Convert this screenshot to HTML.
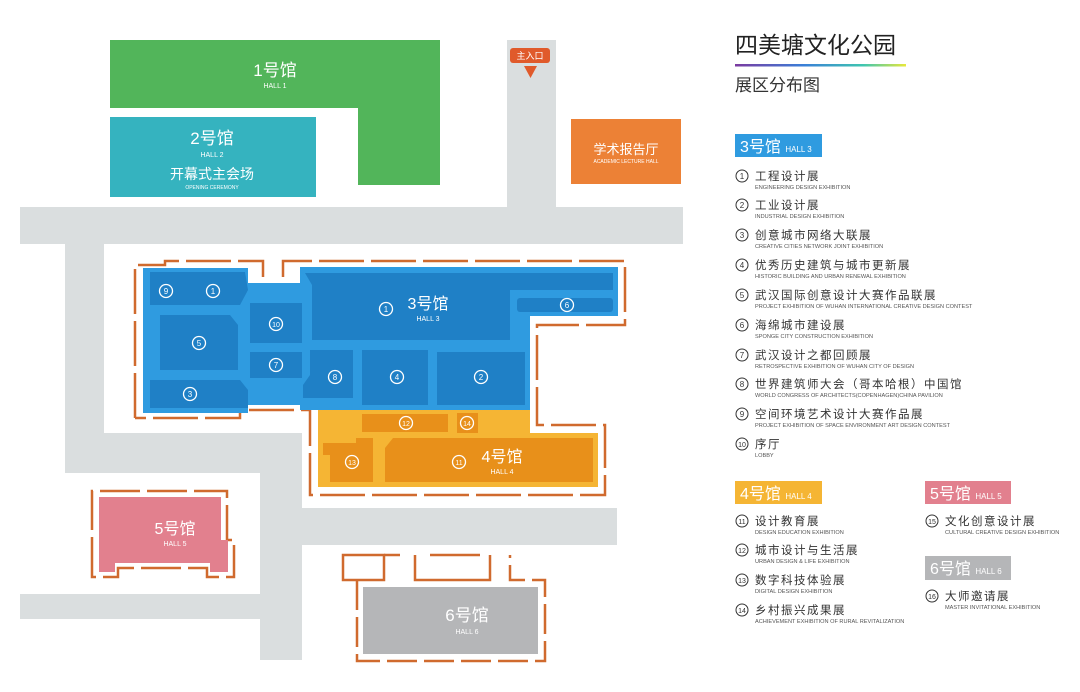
<!DOCTYPE html>
<html><head><meta charset="utf-8"><style>
html,body{margin:0;padding:0;background:#fff;}
svg{display:block;font-family:"Liberation Sans","Noto Sans CJK SC",sans-serif;}
</style></head><body>
<svg width="1080" height="692" viewBox="0 0 1080 692" xmlns="http://www.w3.org/2000/svg">
<rect width="1080" height="692" fill="#fff"/>
<!-- roads -->
<g fill="#dadedf">
<rect x="20" y="207" width="663" height="37"/>
<rect x="507" y="40" width="49" height="168"/>
<rect x="65" y="243" width="39" height="230"/>
<rect x="65" y="433" width="237" height="40"/>
<rect x="260" y="433" width="42" height="227"/>
<rect x="302" y="508" width="315" height="37"/>
<rect x="20" y="594" width="240" height="25"/>
</g>
<!-- hall 1 -->
<path d="M110 40H440V185H358V108H110Z" fill="#52b55a"/>
<text x="275" y="76" fill="#fff" font-size="17" text-anchor="middle">1号馆</text>
<text x="275" y="88" fill="#fff" font-size="7" text-anchor="middle">HALL 1</text>
<!-- hall 2 -->
<rect x="110" y="117" width="206" height="80" fill="#35b3bf"/>
<text x="212" y="144" fill="#fff" font-size="17" text-anchor="middle">2号馆</text>
<text x="212" y="157" fill="#fff" font-size="7" text-anchor="middle">HALL 2</text>
<text x="212" y="179" fill="#fff" font-size="14" text-anchor="middle">开幕式主会场</text>
<text x="212" y="189" fill="#fff" font-size="5" text-anchor="middle">OPENING CEREMONY</text>
<!-- entrance -->
<rect x="510" y="48" width="40" height="15" rx="3" fill="#e05a2b"/>
<text x="530" y="59" fill="#fff" font-size="9" text-anchor="middle">主入口</text>
<path d="M524 66H537L530.5 78Z" fill="#e05a2b"/>
<!-- lecture hall -->
<rect x="571" y="119" width="110" height="65" fill="#ec8136"/>
<text x="626" y="154" fill="#fff" font-size="13" text-anchor="middle">学术报告厅</text>
<text x="626" y="163" fill="#fff" font-size="5" text-anchor="middle">ACADEMIC LECTURE HALL</text>

<!-- hall 3/4 outline -->
<path d="M135 418V265H165V261H263V277M283 277V261H625V325H537V425H605V495H310V410H240V418H135" fill="none" stroke="#d06a2e" stroke-width="2.5" stroke-dasharray="45 7"/>
<!-- hall 3 -->
<path d="M143 268H248V283H300V267H618V316H530V410H300V405H248V413H143Z" fill="#2f9be0"/>
<g fill="#1f80c6">
<path d="M150 272H245L248 290L240 305H150Z"/>
<path d="M160 315H230L238 325V370H160Z"/>
<path d="M150 380H240L248 390V408H150Z"/>
<rect x="250" y="303" width="52" height="40"/>
<rect x="250" y="352" width="52" height="26"/>
<path d="M310 350H353V398H303V385L310 375Z"/>
<rect x="362" y="350" width="66" height="55"/>
<rect x="437" y="352" width="88" height="53"/>
<path d="M305 273H510V340H312V285Z"/>
<rect x="510" y="273" width="103" height="17"/>
<rect x="517" y="298" width="96" height="14" rx="3"/>
</g>
<!-- hall 4 -->
<path d="M318 410H530V433H598V487H318Z" fill="#f5b534"/>
<g fill="#e8901a">
<rect x="362" y="414" width="86" height="18"/>
<rect x="457" y="413" width="21" height="20"/>
<path d="M323 443H356V438H373V482H330V455H323Z"/>
<path d="M393 438H593V482H385V448Z"/>
</g>
<g fill="none" stroke="#fff" stroke-width="1.3">
<circle cx="166" cy="291" r="6.5"/><circle cx="213" cy="291" r="6.5"/>
<circle cx="199" cy="343" r="6.5"/><circle cx="190" cy="394" r="6.5"/>
<circle cx="276" cy="324" r="6.5"/><circle cx="276" cy="365" r="6.5"/>
<circle cx="335" cy="377" r="6.5"/><circle cx="397" cy="377" r="6.5"/>
<circle cx="481" cy="377" r="6.5"/><circle cx="386" cy="309" r="6.5"/>
<circle cx="567" cy="305" r="6.5"/>
<circle cx="406" cy="423" r="6.5"/><circle cx="467" cy="423" r="6.5"/>
<circle cx="352" cy="462" r="6.5"/><circle cx="459" cy="462" r="6.5"/>
<circle cx="130" cy="532" r="7"/><circle cx="422" cy="622" r="8"/>
</g>
<g fill="#fff" font-size="8" text-anchor="middle">
<text x="166" y="294">9</text><text x="213" y="294">1</text>
<text x="199" y="346">5</text><text x="190" y="397">3</text>
<text x="276" y="327" font-size="7">10</text><text x="276" y="368">7</text>
<text x="335" y="380">8</text><text x="397" y="380">4</text>
<text x="481" y="380">2</text><text x="386" y="312">1</text>
<text x="567" y="308">6</text>
<text x="406" y="426" font-size="7">12</text><text x="467" y="426" font-size="7">14</text>
<text x="352" y="465" font-size="7">13</text><text x="459" y="465" font-size="7">11</text>
<text x="130" y="535" font-size="7">15</text><text x="422" y="625" font-size="8">16</text>
</g>
<text x="428" y="309" fill="#fff" font-size="16" text-anchor="middle">3号馆</text>
<text x="428" y="321" fill="#fff" font-size="7" text-anchor="middle">HALL 3</text>
<text x="502" y="462" fill="#fff" font-size="16" text-anchor="middle">4号馆</text>
<text x="502" y="474" fill="#fff" font-size="7" text-anchor="middle">HALL 4</text>

<!-- hall 5 -->
<path d="M92 577V491H227V540H234V577H207V568H118V577Z" fill="none" stroke="#d06a2e" stroke-width="2.5" stroke-dasharray="40 7"/>
<path d="M99 497H221V540H228V572H210V563H115V572H99Z" fill="#e2808e"/>
<text x="175" y="534" fill="#fff" font-size="16" text-anchor="middle">5号馆</text>
<text x="175" y="546" fill="#fff" font-size="7" text-anchor="middle">HALL 5</text>
<!-- hall 6 -->
<g fill="none" stroke="#d06a2e" stroke-width="2.5">
<path d="M357 580V661H545V580H510V555" stroke-dasharray="30 7"/>
<rect x="343" y="555" width="41" height="25"/>
<path d="M415 555V580H490V555"/>
<path d="M384 555H400M430 555H480"/>
</g>
<rect x="363" y="587" width="175" height="67" fill="#b5b6b8"/>
<text x="467" y="621" fill="#fff" font-size="17" text-anchor="middle">6号馆</text>
<text x="467" y="634" fill="#fff" font-size="7" text-anchor="middle">HALL 6</text>

<!-- legend -->
<defs><linearGradient id="g" x1="0" x2="1"><stop offset="0" stop-color="#7b3aa0"/><stop offset="0.4" stop-color="#3a7fd8"/><stop offset="0.75" stop-color="#3fc6b0"/><stop offset="1" stop-color="#e8e83a"/></linearGradient></defs>
<text x="735" y="53" fill="#222" font-size="23">四美塘文化公园</text>
<rect x="735" y="64" width="171" height="2.5" fill="url(#g)"/>
<text x="735" y="91" fill="#333" font-size="17">展区分布图</text>

<rect x="735" y="134" width="87" height="23" fill="#2f9be0"/>
<text x="740" y="152" fill="#fff" font-size="16">3号馆 <tspan font-size="8">HALL 3</tspan></text>
<rect x="735" y="481" width="87" height="23" fill="#f5b534"/>
<text x="740" y="499" fill="#fff" font-size="16">4号馆 <tspan font-size="8">HALL 4</tspan></text>
<rect x="925" y="481" width="86" height="23" fill="#e2808e"/>
<text x="930" y="499" fill="#fff" font-size="16">5号馆 <tspan font-size="8">HALL 5</tspan></text>
<rect x="925" y="556" width="86" height="24" fill="#b5b6b8"/>
<text x="930" y="574" fill="#fff" font-size="16">6号馆 <tspan font-size="8">HALL 6</tspan></text>

<g fill="none" stroke="#333" stroke-width="1">
<circle cx="742" cy="176" r="6"/><circle cx="742" cy="205" r="6"/><circle cx="742" cy="235" r="6"/>
<circle cx="742" cy="265" r="6"/><circle cx="742" cy="295" r="6"/><circle cx="742" cy="325" r="6"/>
<circle cx="742" cy="355" r="6"/><circle cx="742" cy="384" r="6"/><circle cx="742" cy="414" r="6"/>
<circle cx="742" cy="444" r="6"/>
<circle cx="742" cy="521" r="6"/><circle cx="742" cy="550" r="6"/><circle cx="742" cy="580" r="6"/><circle cx="742" cy="610" r="6"/>
<circle cx="932" cy="521" r="6"/><circle cx="932" cy="596" r="6"/>
</g>
<g fill="#333" font-size="8" text-anchor="middle">
<text x="742" y="179">1</text><text x="742" y="208">2</text><text x="742" y="238">3</text>
<text x="742" y="268">4</text><text x="742" y="298">5</text><text x="742" y="328">6</text>
<text x="742" y="358">7</text><text x="742" y="387">8</text><text x="742" y="417">9</text>
<text x="742" y="447" font-size="7">10</text>
<text x="742" y="524" font-size="7">11</text><text x="742" y="553" font-size="7">12</text>
<text x="742" y="583" font-size="7">13</text><text x="742" y="613" font-size="7">14</text>
<text x="932" y="524" font-size="7">15</text><text x="932" y="599" font-size="7">16</text>
</g>
<g fill="#333" font-size="11.5" letter-spacing="1.5">
<text x="755" y="180">工程设计展</text>
<text x="755" y="209">工业设计展</text>
<text x="755" y="239">创意城市网络大联展</text>
<text x="755" y="269">优秀历史建筑与城市更新展</text>
<text x="755" y="299">武汉国际创意设计大赛作品联展</text>
<text x="755" y="329">海绵城市建设展</text>
<text x="755" y="359">武汉设计之都回顾展</text>
<text x="755" y="388">世界建筑师大会（哥本哈根）中国馆</text>
<text x="755" y="418">空间环境艺术设计大赛作品展</text>
<text x="755" y="448">序厅</text>
<text x="755" y="525">设计教育展</text>
<text x="755" y="554">城市设计与生活展</text>
<text x="755" y="584">数字科技体验展</text>
<text x="755" y="614">乡村振兴成果展</text>
<text x="945" y="525">文化创意设计展</text>
<text x="945" y="600">大师邀请展</text>
</g>
<g fill="#555" font-size="5.6">
<text x="755" y="189">ENGINEERING DESIGN EXHIBITION</text>
<text x="755" y="218">INDUSTRIAL DESIGN EXHIBITION</text>
<text x="755" y="248">CREATIVE CITIES NETWORK JOINT EXHIBITION</text>
<text x="755" y="278">HISTORIC BUILDING AND URBAN RENEWAL EXHIBITION</text>
<text x="755" y="308">PROJECT EXHIBITION OF WUHAN INTERNATIONAL CREATIVE DESIGN CONTEST</text>
<text x="755" y="338">SPONGE CITY CONSTRUCTION EXHIBITION</text>
<text x="755" y="368">RETROSPECTIVE EXHIBITION OF WUHAN CITY OF DESIGN</text>
<text x="755" y="397">WORLD CONGRESS OF ARCHITECTS(COPENHAGEN)CHINA PAVILION</text>
<text x="755" y="427">PROJECT EXHIBITION OF SPACE ENVIRONMENT ART DESIGN CONTEST</text>
<text x="755" y="457">LOBBY</text>
<text x="755" y="534">DESIGN EDUCATION EXHIBITION</text>
<text x="755" y="563">URBAN DESIGN &amp; LIFE EXHIBITION</text>
<text x="755" y="593">DIGITAL DESIGN EXHIBITION</text>
<text x="755" y="623">ACHIEVEMENT EXHIBITION OF RURAL REVITALIZATION</text>
<text x="945" y="534">CULTURAL CREATIVE DESIGN EXHIBITION</text>
<text x="945" y="609">MASTER INVITATIONAL EXHIBITION</text>
</g>
</svg>
</body></html>
